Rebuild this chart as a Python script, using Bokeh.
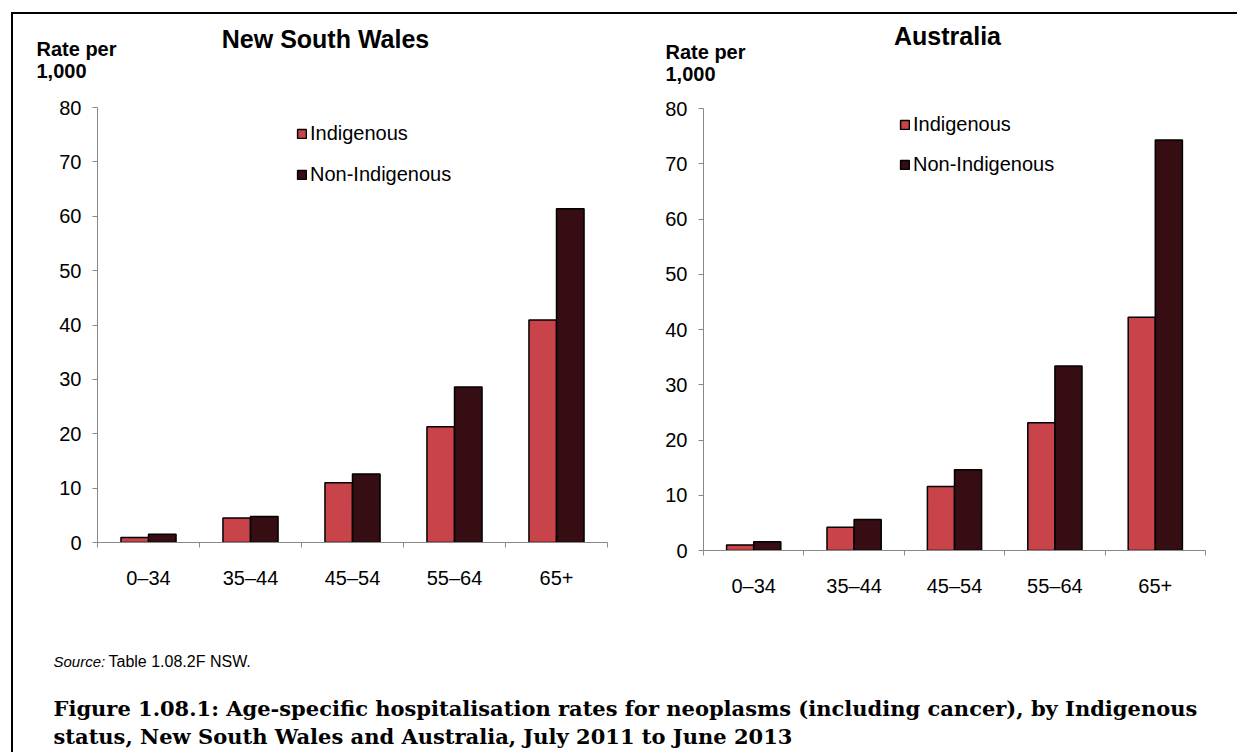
from bokeh.plotting import figure
from bokeh.models import (Range1d, LinearAxis, FixedTicker, Label, Legend, LegendItem,
                          ColumnDataSource)
from bokeh.transform import dodge
from bokeh.layouts import column, row
from bokeh.embed import file_html
from bokeh.resources import INLINE

# ---------------- data ----------------
age_groups = ["0–34", "35–44", "45–54", "55–64", "65+"]
nsw_indigenous = [0.9, 4.5, 11.0, 21.3, 40.9]
nsw_non_indigenous = [1.5, 4.8, 12.6, 28.6, 61.4]
aus_indigenous = [1.0, 4.2, 11.6, 23.1, 42.2]
aus_non_indigenous = [1.6, 5.6, 14.6, 33.4, 74.3]
y_ticks = [0, 10, 20, 30, 40, 50, 60, 70, 80]
series_names = ["Indigenous", "Non-Indigenous"]
panel_titles = ["New South Wales", "Australia"]
y_title_lines = ["Rate per", "1,000"]
source_label = "Source:"
source_text = "Table 1.08.2F NSW."
caption_lines = [
    "Figure 1.08.1: Age-specific hospitalisation rates for neoplasms (including cancer), by Indigenous",
    "status, New South Wales and Australia, July 2011 to June 2013",
]

# ---------------- style / layout ----------------
IND_COLOR = "#C8444A"
NON_COLOR = "#350D12"
AXIS_GRAY = "#898989"
SANS = "Liberation Sans"
SERIF = "DejaVu Serif"
BAR_W = 0.27

X0, Y0 = 13, 16          # page position of the layout content
X_SPLIT = 620            # boundary between the two panels
X_END, Y_END = 1237, 754
Y_HDR = 95               # bottom of header strip
Y_CAP = 640              # top of caption strip

n_groups = len(age_groups)
centers = [i + 0.5 for i in range(n_groups)]
edges = [float(i) for i in range(n_groups + 1)]


def blank(x_a, x_b, y_a, y_b):
    f = figure(width=x_b - x_a, height=y_b - y_a,
               x_range=Range1d(x_a, x_b), y_range=Range1d(y_b, y_a),
               x_axis_location=None, y_axis_location=None, output_backend="svg",
               toolbar_location=None, min_border=0, outline_line_color=None,
               background_fill_color="white", border_fill_color="white")
    f.grid.visible = False
    return f


def header(title, x_a, x_b, title_xy, ytitle_xy):
    h = blank(x_a, x_b, Y0, Y_HDR)
    h.add_layout(Label(x=title_xy[0], y=title_xy[1], text=title,
                       text_align="center", text_baseline="middle",
                       text_font=SANS, text_font_size="25px", text_font_style="bold",
                       text_color="black"))
    for i, line in enumerate(y_title_lines):
        h.add_layout(Label(x=ytitle_xy[0], y=ytitle_xy[1] + 22 * i, text=line,
                           text_align="left", text_baseline="middle",
                           text_font=SANS, text_font_size="20px", text_font_style="bold",
                           text_color="black"))
    return h


def panel(ind, non, x_a, x_b, fl, fr, ft, fb, legend_x, legend_bottom, pitch):
    p = figure(width=x_b - x_a, height=Y_CAP - Y_HDR,
               x_range=Range1d(0, n_groups),
               y_range=Range1d(y_ticks[0], y_ticks[-1]),
               x_axis_location=None, y_axis_location=None,
               output_backend="svg", toolbar_location=None,
               min_border_left=fl - x_a, min_border_right=x_b - fr,
               min_border_top=ft - Y_HDR, min_border_bottom=Y_CAP - fb,
               outline_line_color=None, background_fill_color="white",
               border_fill_color="white")
    p.grid.visible = False

    src = ColumnDataSource(dict(pos=centers, age=age_groups, ind=ind, non=non))
    r1 = p.vbar(x=dodge("pos", -BAR_W / 2), top="ind", width=BAR_W,
                source=src, fill_color=IND_COLOR, line_color="black", line_width=1.5)
    r2 = p.vbar(x=dodge("pos", BAR_W / 2), top="non", width=BAR_W,
                source=src, fill_color=NON_COLOR, line_color="black", line_width=1.5)

    yax = LinearAxis(ticker=FixedTicker(ticks=y_ticks), major_tick_in=0, major_tick_out=5,
                     minor_tick_line_color=None, axis_line_color=AXIS_GRAY,
                     major_tick_line_color=AXIS_GRAY, major_label_standoff=11,
                     major_label_text_font=SANS, major_label_text_font_size="20px",
                     major_label_text_color="black")
    p.add_layout(yax, "left")

    xax = LinearAxis(ticker=FixedTicker(ticks=centers, minor_ticks=edges),
                     major_label_overrides={c: a for c, a in zip(centers, age_groups)},
                     major_tick_line_color=None, major_tick_in=0, major_tick_out=0,
                     minor_tick_line_color=AXIS_GRAY, minor_tick_in=0, minor_tick_out=5,
                     axis_line_color=AXIS_GRAY, major_label_standoff=19,
                     major_label_text_font=SANS, major_label_text_font_size="20px",
                     major_label_text_color="black")
    p.add_layout(xax, "below")

    legend = Legend(items=[LegendItem(label=series_names[0], renderers=[r1]),
                           LegendItem(label=series_names[1], renderers=[r2])],
                    location=(legend_x - fl, fb - legend_bottom),
                    orientation="vertical", glyph_width=11, glyph_height=11,
                    label_height=11, label_standoff=3, spacing=pitch - 23,
                    padding=0, margin=0,
                    border_line_color=None, background_fill_alpha=0,
                    label_text_font=SANS, label_text_font_size="20px",
                    label_text_color="black")
    p.add_layout(legend)
    return p


h1 = header(panel_titles[0], X0, X_SPLIT, (325, 40), (36, 50))
h2 = header(panel_titles[1], X_SPLIT, X_END, (947, 37), (665, 53))
p1 = panel(nsw_indigenous, nsw_non_indigenous, X0, X_SPLIT,
           97, 607, 109, 544, 296, 188, 41)
p2 = panel(aus_indigenous, aus_non_indigenous, X_SPLIT, X_END,
           703, 1205, 110, 552, 899, 178, 40)

cap = blank(X0, X_END, Y_CAP, Y_END)
cap.add_layout(Label(x=53, y=663, text=source_label, text_align="left",
                     text_baseline="middle", text_font=SANS, text_font_size="15px",
                     text_font_style="italic", text_color="black"))
cap.add_layout(Label(x=108, y=663, text=source_text, text_align="left",
                     text_baseline="middle", text_font=SANS, text_font_size="16px",
                     text_color="black"))
for i, line in enumerate(caption_lines):
    cap.add_layout(Label(x=53, y=710 + 28 * i, text=line, text_align="left",
                         text_baseline="middle", text_font=SERIF,
                         text_font_size="21px", text_font_style="bold", text_color="black"))

# each chart wrapped in its own column so the two frames keep their own heights
layout = column(row(h1, h2), row(column(p1), column(p2)), cap, margin=(12, 0, 0, 11),
                styles={"border-top": "2px solid #000", "border-left": "2px solid #000"})

open("out.html", "w").write(file_html(layout, INLINE))
